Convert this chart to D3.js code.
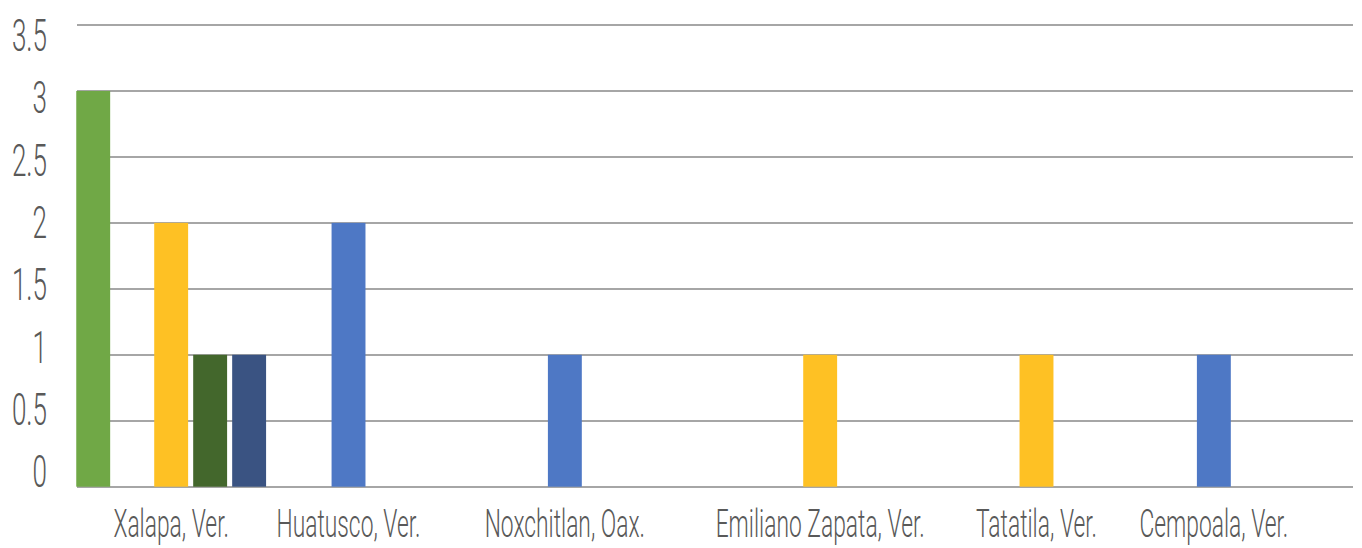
<!DOCTYPE html>
<meta charset="utf-8">
<script src="https://cdn.jsdelivr.net/npm/d3@7"></script>
<style type="text/css">
    body { margin: 0; background: #fff; }
    .grid line { stroke: #a6a6a6; stroke-width: 2px; shape-rendering: crispEdges; }
    .lbl { font-family: Roboto, "DejaVu Sans Condensed", sans-serif; font-weight: 300; fill: #595959; }
</style>
<body>
<script>
    var categories = ["Xalapa, Ver.", "Huatusco, Ver.", "Noxchitlan, Oax.",
        "Emiliano Zapata, Ver.", "Tatatila, Ver.", "Cempoala, Ver."];
    var series = ["Serie 1", "Serie 2", "Serie 3", "Serie 4", "Serie 5"];
    var colors = ["#70a846", "#4e78c5", "#fec124", "#43672c", "#3a5382"];
    var serie1 = [3, 0, 0, 0, 0, 0],
        serie2 = [0, 2, 1, 0, 0, 1],
        serie3 = [2, 0, 0, 1, 1, 0],
        serie4 = [1, 0, 0, 0, 0, 0],
        serie5 = [1, 0, 0, 0, 0, 0];
    var values = [serie1, serie2, serie3, serie4, serie5];
    var yTicks = [0, 0.5, 1, 1.5, 2, 2.5, 3, 3.5];

    var width = 1362, height = 548,
        plotLeft = 77, plotRight = 1353,
        squeeze = 0.585;

    var svg = d3.select("body")
        .append("svg")
        .attr("width", width)
        .attr("height", height);

    var y = d3.scaleLinear().domain([0, 3.5]).range([486.7, 25]);
    // tick labels sit on a slightly tighter spread than the gridlines
    var yText = d3.scaleLinear().domain([0, 3.5]).range([471, 34.5]);

    var x0 = d3.scaleBand().domain(categories).range([63, 1361]);
    var x1 = d3.scaleBand().domain(series).range([0, x0.bandwidth()])
        .paddingInner(0.13).paddingOuter(0.34);

    // gridlines
    svg.append("g")
        .attr("class", "grid")
        .selectAll("line")
        .data(yTicks)
        .enter()
        .append("line")
        .attr("x1", plotLeft)
        .attr("x2", plotRight)
        .attr("y1", function(d){ return Math.round(y(d)); })
        .attr("y2", function(d){ return Math.round(y(d)); });

    // bars
    var bars = [];
    series.forEach(function(s, i){
        categories.forEach(function(c, j){
            if (values[i][j] > 0)
                bars.push({serie: s, cat: c, value: values[i][j], color: colors[i]});
        });
    });

    svg.append("g")
        .selectAll("rect")
        .data(bars)
        .enter()
        .append("rect")
        .attr("x", function(d){ return x0(d.cat) + x1(d.serie); })
        .attr("y", function(d){ return y(d.value); })
        .attr("width", x1.bandwidth())
        .attr("height", function(d){ return y(0) - y(d.value); })
        .style("fill", function(d){ return d.color; });

    // y axis labels
    var yAxis = svg.append("g")
        .attr("transform", "translate(47,0)")
        .call(d3.axisLeft(yText).tickValues(yTicks).tickSize(0).tickFormat(d3.format("")));
    yAxis.select(".domain").remove();
    yAxis.selectAll("text")
        .attr("class", "lbl")
        .attr("x", 0)
        .attr("dy", "0.355em")
        .attr("transform", "scale(" + squeeze + ",1)")
        .style("font-size", "44.5px")
        .attr("font-family", null)
        .attr("fill", null);

    // category labels, centred under the bars each place actually has
    var labelX = categories.map(function(c){
        var xs = bars.filter(function(b){ return b.cat === c; })
            .map(function(b){ return x0(c) + x1(b.serie); });
        return (d3.min(xs) + d3.max(xs) + x1.bandwidth()) / 2;
    });

    svg.append("g")
        .selectAll("text")
        .data(categories)
        .enter()
        .append("text")
        .attr("class", "lbl")
        .attr("text-anchor", "middle")
        .attr("transform", function(d, i){
            return "translate(" + labelX[i] + "," + (y(0) + 50) + ") scale(" + squeeze + ",1)";
        })
        .style("font-size", "39px")
        .text(function(d){ return d; });
</script>
</body>
